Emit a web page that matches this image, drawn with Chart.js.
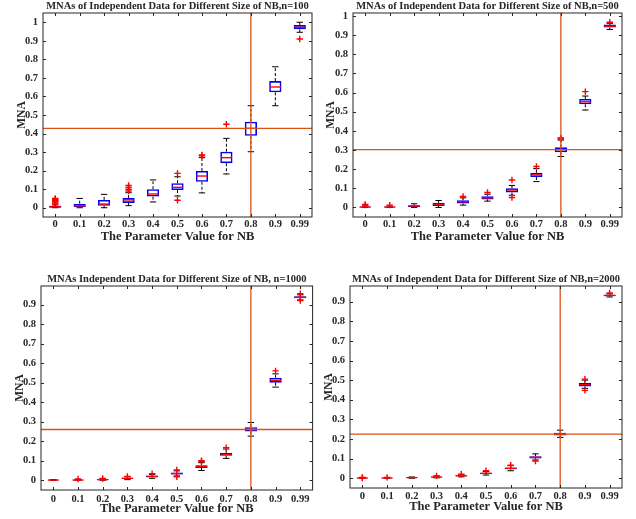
<!DOCTYPE html>
<html>
<head>
<meta charset="utf-8">
<script src="https://cdn.jsdelivr.net/npm/chart.js@4.4.0/dist/chart.umd.min.js"></script>
<style>
  body { margin: 0; background: #fff; }
  #page { position: relative; width: 636px; height: 519px; background: #fff; }
  #page canvas { position: absolute; }
</style>
</head>
<body>
<div id="page">
  <canvas id="c100" width="318" height="259" style="left:0;top:0"></canvas>
  <canvas id="c500" width="318" height="259" style="left:318px;top:0"></canvas>
  <canvas id="c1000" width="318" height="259" style="left:0;top:260px"></canvas>
  <canvas id="c2000" width="318" height="259" style="left:318px;top:260px"></canvas>
</div>
<script>
// categories on the x axis
const categories = ['0', '0.1', '0.2', '0.3', '0.4', '0.5', '0.6', '0.7', '0.8', '0.9', '0.99'];
const yTicksTop = [0, 0.1, 0.2, 0.3, 0.4, 0.5, 0.6, 0.7, 0.8, 0.9, 1];
const yTicksBottom = [0, 0.1, 0.2, 0.3, 0.4, 0.5, 0.6, 0.7, 0.8, 0.9];

// n=100
const n100Low  = [0, 0, 0, 0.011, 0.031, 0.063, 0.08, 0.182, 0.302, 0.55, 0.946];
const n100Q1   = [0, 0.002, 0.01, 0.026, 0.06, 0.095, 0.14, 0.24, 0.388, 0.622, 0.962];
const n100Med  = [0.005, 0.01, 0.02, 0.042, 0.074, 0.11, 0.171, 0.27, 0.428, 0.651, 0.973];
const n100Q3   = [0.01, 0.022, 0.042, 0.052, 0.1, 0.132, 0.198, 0.302, 0.464, 0.683, 0.985];
const n100High = [0.015, 0.05, 0.072, 0.081, 0.15, 0.167, 0.27, 0.374, 0.55, 0.76, 1.0];
const n100Out  = [['0', 0.02], ['0', 0.025], ['0', 0.03], ['0', 0.035], ['0', 0.04], ['0', 0.045], ['0', 0.05],
                  ['0.3', 0.09], ['0.3', 0.1], ['0.3', 0.11], ['0.3', 0.12], ['0.5', 0.185], ['0.5', 0.04],
                  ['0.6', 0.28], ['0.6', 0.285], ['0.7', 0.45], ['0.99', 0.91]];

// n=500
const n500Low  = [0, 0, 0, 0, 0.012, 0.033, 0.064, 0.135, 0.266, 0.509, 0.93];
const n500Q1   = [0, 0, 0.002, 0.008, 0.021, 0.042, 0.078, 0.159, 0.288, 0.539, 0.94];
const n500Med  = [0.002, 0.002, 0.007, 0.016, 0.03, 0.05, 0.091, 0.17, 0.302, 0.552, 0.947];
const n500Q3   = [0.005, 0.005, 0.012, 0.024, 0.037, 0.058, 0.1, 0.181, 0.314, 0.567, 0.956];
const n500High = [0.008, 0.008, 0.019, 0.036, 0.05, 0.069, 0.115, 0.203, 0.352, 0.582, 0.962];
const n500Out  = [['0', 0.012], ['0', 0.016], ['0.1', 0.012], ['0.4', 0.058], ['0.5', 0.078], ['0.6', 0.143],
                  ['0.6', 0.052], ['0.7', 0.214], ['0.8', 0.357], ['0.8', 0.36], ['0.8', 0.363],
                  ['0.9', 0.605], ['0.99', 0.968]];

// n=1000
const n1000Low  = [0, 0, 0, 0.003, 0.01, 0.022, 0.05, 0.112, 0.226, 0.477, 0.924];
const n1000Q1   = [0, 0, 0.001, 0.007, 0.015, 0.03, 0.063, 0.125, 0.25, 0.5, 0.932];
const n1000Med  = [0.001, 0.001, 0.003, 0.01, 0.019, 0.034, 0.07, 0.132, 0.26, 0.512, 0.937];
const n1000Q3   = [0.002, 0.002, 0.005, 0.013, 0.024, 0.04, 0.077, 0.14, 0.272, 0.525, 0.943];
const n1000High = [0.003, 0.004, 0.008, 0.018, 0.03, 0.048, 0.09, 0.16, 0.296, 0.545, 0.95];
const n1000Out  = [['0.1', 0.006], ['0.2', 0.009], ['0.3', 0.02], ['0.4', 0.034], ['0.5', 0.053], ['0.5', 0.018],
                   ['0.6', 0.1], ['0.6', 0.096], ['0.7', 0.167], ['0.9', 0.56], ['0.99', 0.955], ['0.99', 0.92]];

// n=2000
const n2000Low  = [0, 0, 0, 0.002, 0.007, 0.016, 0.038, 0.093, 0.208, 0.458, 0.924];
const n2000Q1   = [0, 0, 0.001, 0.004, 0.01, 0.021, 0.045, 0.1, 0.218, 0.468, 0.928];
const n2000Med  = [0.001, 0.001, 0.003, 0.006, 0.012, 0.025, 0.05, 0.106, 0.225, 0.477, 0.932];
const n2000Q3   = [0.002, 0.002, 0.004, 0.008, 0.015, 0.028, 0.055, 0.112, 0.232, 0.485, 0.935];
const n2000High = [0.003, 0.003, 0.006, 0.011, 0.018, 0.034, 0.064, 0.124, 0.245, 0.5, 0.94];
const n2000Out  = [['0', 0.004], ['0', 0.001], ['0.1', 0.004], ['0.3', 0.012], ['0.4', 0.02], ['0.5', 0.038],
                   ['0.6', 0.066], ['0.7', 0.088], ['0.9', 0.505], ['0.9', 0.448], ['0.99', 0.945]];

const textColor = '#262626';
const boxBlue = '#0000ff';
const medRed = '#ff0000';
const refOrange = '#d95319';

Chart.defaults.font.family = '"Liberation Serif", "Times New Roman", serif';
Chart.defaults.font.weight = 'bold';
Chart.defaults.color = textColor;

// whiskers, medians, reference lines and the MATLAB style frame
function boxParts(low, med, high, yTicks, refCat) {
  return {
    id: 'boxParts',
    beforeDatasetsDraw(chart) {
      const { ctx, scales: { x, y } } = chart;
      const cw = x.getPixelForValue(1) - x.getPixelForValue(0);
      ctx.save();
      ctx.strokeStyle = '#000';
      ctx.lineWidth = 1;
      categories.forEach((c, i) => {
        const px = x.getPixelForValue(i);
        const q1 = chart.data.datasets[0].data[i][0];
        const q3 = chart.data.datasets[0].data[i][1];
        ctx.setLineDash([3, 2]);
        ctx.beginPath();
        ctx.moveTo(px, y.getPixelForValue(q3));
        ctx.lineTo(px, y.getPixelForValue(high[i]));
        ctx.moveTo(px, y.getPixelForValue(q1));
        ctx.lineTo(px, y.getPixelForValue(low[i]));
        ctx.stroke();
        ctx.setLineDash([]);
        ctx.beginPath();
        ctx.moveTo(px - cw * 0.13, y.getPixelForValue(high[i]));
        ctx.lineTo(px + cw * 0.13, y.getPixelForValue(high[i]));
        ctx.moveTo(px - cw * 0.13, y.getPixelForValue(low[i]));
        ctx.lineTo(px + cw * 0.13, y.getPixelForValue(low[i]));
        ctx.stroke();
      });
      ctx.restore();
    },
    afterDatasetsDraw(chart) {
      const { ctx, chartArea: a, scales: { x, y } } = chart;
      const cw = x.getPixelForValue(1) - x.getPixelForValue(0);
      ctx.save();
      ctx.strokeStyle = medRed;
      ctx.lineWidth = 1.4;
      categories.forEach((c, i) => {
        const px = x.getPixelForValue(i);
        const py = y.getPixelForValue(med[i]);
        ctx.beginPath();
        ctx.moveTo(px - cw * 0.22, py);
        ctx.lineTo(px + cw * 0.22, py);
        ctx.stroke();
      });
      // reference lines through the 0.8 box
      const ri = categories.indexOf(refCat);
      const rx = x.getPixelForValue(ri);
      const ry = y.getPixelForValue(med[ri]);
      ctx.strokeStyle = refOrange;
      ctx.lineWidth = 1.3;
      ctx.beginPath();
      ctx.moveTo(rx, a.top);
      ctx.lineTo(rx, a.bottom);
      ctx.moveTo(a.left, ry);
      ctx.lineTo(a.right, ry);
      ctx.stroke();
      // frame and inward ticks
      ctx.strokeStyle = textColor;
      ctx.lineWidth = 1;
      ctx.strokeRect(a.left, a.top, a.right - a.left, a.bottom - a.top);
      ctx.beginPath();
      yTicks.forEach(v => {
        const py = Math.round(y.getPixelForValue(v)) + 0.5;
        ctx.moveTo(a.left, py); ctx.lineTo(a.left + 3, py);
        ctx.moveTo(a.right, py); ctx.lineTo(a.right - 3, py);
      });
      categories.forEach((c, i) => {
        const px = Math.round(x.getPixelForValue(i)) + 0.5;
        ctx.moveTo(px, a.bottom); ctx.lineTo(px, a.bottom - 3);
        ctx.moveTo(px, a.top); ctx.lineTo(px, a.top + 3);
      });
      ctx.stroke();
      ctx.restore();
    }
  };
}

function makePanel(id, title, low, q1, med, q3, high, out, yMax, yTicks, lay) {
  const W = 318, H = 259;
  new Chart(document.getElementById(id), {
    type: 'bar',
    data: {
      labels: categories,
      datasets: [{
        // the boxes, q1 to q3
        data: q1.map((v, i) => [v, q3[i]]),
        backgroundColor: 'rgba(0,0,0,0)',
        borderColor: boxBlue,
        borderWidth: 1.6,
        borderSkipped: false,
        barPercentage: 0.5,
        categoryPercentage: 1
      }, {
        // outliers
        type: 'line',
        data: out.map(o => ({ x: o[0], y: o[1] })),
        showLine: false,
        pointStyle: 'cross',
        pointRadius: 3.2,
        pointBorderWidth: 1.4,
        borderColor: medRed,
        backgroundColor: medRed
      }]
    },
    options: {
      responsive: false,
      animation: false,
      layout: { padding: { left: 0, right: W - lay.R, top: 0, bottom: 0 } },
      plugins: {
        legend: { display: false },
        tooltip: { enabled: false },
        title: {
          display: true,
          text: title,
          fullSize: false,
          color: textColor,
          font: { size: 10.5, lineHeight: 1.2, weight: 'bold' },
          padding: { top: lay.titleY - 6.3, bottom: lay.T - 12.6 - (lay.titleY - 6.3) }
        }
      },
      scales: {
        x: {
          grid: { display: false, drawTicks: false },
          border: { display: false },
          ticks: { padding: lay.xtPad, font: { size: 10.5 }, color: textColor, maxRotation: 0, autoSkip: false },
          title: {
            display: true,
            text: 'The Parameter Value for NB',
            color: textColor,
            font: { size: 12.5, lineHeight: 1.2, weight: 'bold' },
            padding: { top: 0, bottom: H - 7.5 - lay.xTitleY }
          },
          afterFit: s => { s.height = H - lay.B; }
        },
        y: {
          min: -0.05,
          max: yMax,
          grid: { display: false, drawTicks: false },
          border: { display: false },
          afterBuildTicks: s => { s.ticks = yTicks.map(v => ({ value: v })); },
          ticks: { padding: 5, font: { size: 10.5 }, color: textColor, callback: v => String(v) },
          title: {
            display: true,
            text: 'MNA',
            color: textColor,
            font: { size: 11.5, lineHeight: 1.2, weight: 'bold' },
            padding: { top: lay.yTitleX - 6.9, bottom: 0 }
          },
          afterFit: s => { s.width = lay.L; }
        }
      }
    },
    plugins: [boxParts(low, med, high, yTicks, '0.8')]
  });
}

makePanel('c100', 'MNAs of Independent Data for Different Size of NB,n=100',
  n100Low, n100Q1, n100Med, n100Q3, n100High, n100Out, 1.05, yTicksTop,
  { L: 43, R: 312, T: 13, B: 217, titleY: 6, yTitleX: 22, xtPad: 1, xTitleY: 236.5 });
makePanel('c500', 'MNAs of Independent Data for Different Size of NB,n=500',
  n500Low, n500Q1, n500Med, n500Q3, n500High, n500Out, 1.016, yTicksTop,
  { L: 35, R: 304, T: 13, B: 217, titleY: 6, yTitleX: 13, xtPad: 1, xTitleY: 236.5 });
makePanel('c1000', 'MNAs Independent Data for Different Size of NB, n=1000',
  n1000Low, n1000Q1, n1000Med, n1000Q3, n1000High, n1000Out, 0.995, yTicksBottom,
  { L: 41, R: 314, T: 26, B: 230, titleY: 19, yTitleX: 20.5, xtPad: 3, xTitleY: 248.5 });
makePanel('c2000', 'MNAs of Independent Data for Different Size of NB,n=2000',
  n2000Low, n2000Q1, n2000Med, n2000Q3, n2000High, n2000Out, 0.98, yTicksBottom,
  { L: 32, R: 304, T: 26, B: 228, titleY: 19, yTitleX: 11.5, xtPad: 1.5, xTitleY: 247 });
</script>
</body>
</html>
